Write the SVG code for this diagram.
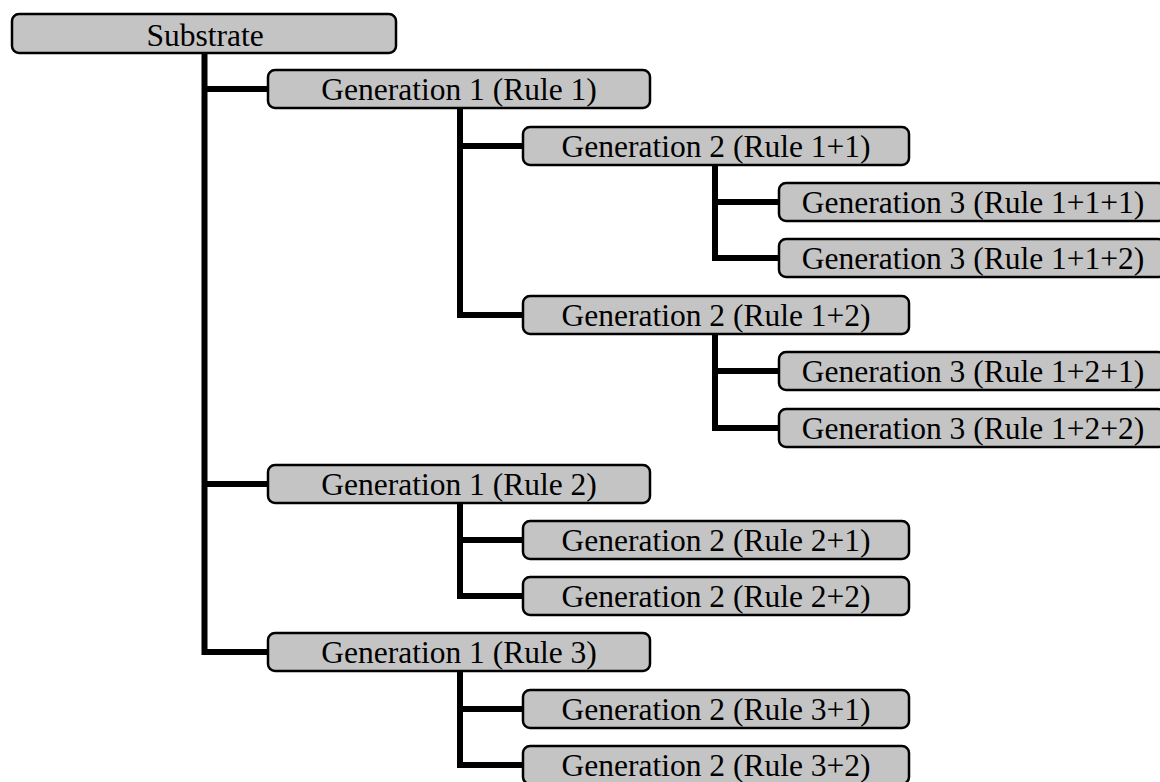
<svg xmlns="http://www.w3.org/2000/svg" width="1160" height="782" viewBox="0 0 1160 782">
<style>
.box{fill:#c4c4c4;stroke:#000;stroke-width:2.5}
.lbl{font-family:"Liberation Serif","Times New Roman",serif;font-size:31.5px;fill:#000;text-anchor:middle}
.conn{fill:none;stroke:#000;stroke-width:6;stroke-linejoin:miter;stroke-linecap:butt}
</style>
<rect width="1160" height="782" fill="#fff"/>
<g id="connectors" class="conn">
<path d="M204.5 53 V652 H268"/>
<path d="M204.5 89 H268"/>
<path d="M204.5 484 H268"/>
<path d="M460 108 V315 H523"/>
<path d="M460 146 H523"/>
<path d="M460 503 V596 H523"/>
<path d="M460 540 H523"/>
<path d="M460 671 V765 H523"/>
<path d="M460 709 H523"/>
<path d="M715 165 V258 H779"/>
<path d="M715 202 H779"/>
<path d="M715 334 V428 H779"/>
<path d="M715 371 H779"/>
</g>
<g id="substrate"><rect class="box" x="12" y="14" width="384" height="39" rx="7"/><text class="lbl" x="205" y="46">Substrate</text></g>
<g id="gen1-r1"><rect class="box" x="268" y="70" width="382" height="38" rx="7"/><text class="lbl" x="459" y="100">Generation 1 (Rule 1)</text></g>
<g id="gen2-r11"><rect class="box" x="523" y="127" width="386" height="38" rx="7"/><text class="lbl" x="716" y="157">Generation 2 (Rule 1+1)</text></g>
<g id="gen3-r111"><rect class="box" x="779" y="183" width="386" height="38" rx="7"/><text class="lbl" x="973" y="213">Generation 3 (Rule 1+1+1)</text></g>
<g id="gen3-r112"><rect class="box" x="779" y="239" width="386" height="38" rx="7"/><text class="lbl" x="973" y="269">Generation 3 (Rule 1+1+2)</text></g>
<g id="gen2-r12"><rect class="box" x="523" y="296" width="386" height="38" rx="7"/><text class="lbl" x="716" y="326">Generation 2 (Rule 1+2)</text></g>
<g id="gen3-r121"><rect class="box" x="779" y="352" width="386" height="38" rx="7"/><text class="lbl" x="973" y="382">Generation 3 (Rule 1+2+1)</text></g>
<g id="gen3-r122"><rect class="box" x="779" y="409" width="386" height="38" rx="7"/><text class="lbl" x="973" y="439">Generation 3 (Rule 1+2+2)</text></g>
<g id="gen1-r2"><rect class="box" x="268" y="465" width="382" height="38" rx="7"/><text class="lbl" x="459" y="495">Generation 1 (Rule 2)</text></g>
<g id="gen2-r21"><rect class="box" x="523" y="521" width="386" height="38" rx="7"/><text class="lbl" x="716" y="551">Generation 2 (Rule 2+1)</text></g>
<g id="gen2-r22"><rect class="box" x="523" y="577" width="386" height="38" rx="7"/><text class="lbl" x="716" y="607">Generation 2 (Rule 2+2)</text></g>
<g id="gen1-r3"><rect class="box" x="268" y="633" width="382" height="38" rx="7"/><text class="lbl" x="459" y="663">Generation 1 (Rule 3)</text></g>
<g id="gen2-r31"><rect class="box" x="523" y="690" width="386" height="38" rx="7"/><text class="lbl" x="716" y="720">Generation 2 (Rule 3+1)</text></g>
<g id="gen2-r32"><rect class="box" x="523" y="746" width="386" height="38" rx="7"/><text class="lbl" x="716" y="776">Generation 2 (Rule 3+2)</text></g>
</svg>
